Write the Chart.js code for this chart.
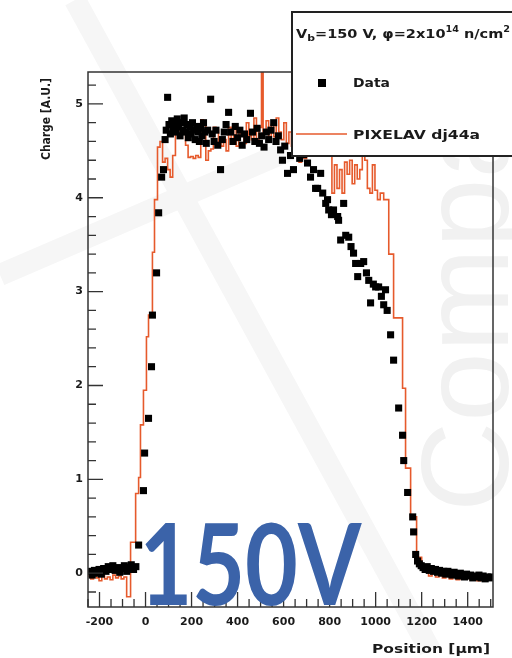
<!DOCTYPE html>
<html>
<head>
<meta charset="utf-8">
<script src="https://cdn.jsdelivr.net/npm/chart.js@4.4.1/dist/chart.umd.min.js"></script>
<style>
  html, body { margin: 0; padding: 0; background: #fff; }
  canvas { display: block; }
</style>
</head>
<body>
<canvas id="grafico" width="512" height="658"></canvas>
<script>
// Measured charge profile (black squares)
const dataX = [
  -242, -232, -222, -212, -202, -192, -182, -172, -162, -152, -142, -132, -122, -112, -102, -92, -82, -72, -62, -52, -42,
  -30, -9, -4, 13, 26, 30, 48, 57, 70, 78,
  85, 90, 96, 102, 108, 114, 120, 126, 132, 138, 144, 150, 156, 162, 168, 174, 180, 186, 192, 198,
  204, 210, 216, 222, 228, 234, 240, 246, 252, 258, 264, 270, 283, 290, 298, 306, 314, 326, 334, 342,
  350, 361, 370, 380, 390, 400, 410, 420, 430, 440, 456, 465, 475, 485, 495, 505, 515, 525, 535, 545,
  557, 567, 577, 587, 595, 605, 617, 630, 643, 655, 670, 687, 704, 717, 730, 739, 748, 761, 770, 783,
  791, 796, 808, 817, 835, 839, 848, 861, 870, 883, 893, 904, 913, 922, 935, 948, 960, 970, 978, 990,
  1000, 1013, 1025, 1035, 1043, 1050, 1065, 1078, 1100, 1117, 1122, 1139, 1161, 1165, 1174, 1182, 1190, 1198,
  1206, 1215, 1224, 1233, 1242, 1251, 1260, 1269, 1278, 1287, 1296, 1305, 1314, 1323, 1332, 1341, 1350,
  1359, 1368, 1377, 1386, 1395, 1404, 1413, 1422, 1431, 1440, 1449, 1458, 1467, 1476, 1485, 1494, 1503
];
const dataY = [
  0.02, -0.02, 0.03, 0.0, 0.04, -0.01, 0.05, 0.02, 0.07, 0.04, 0.08, 0.03, 0.06, 0.01, 0.05, 0.08, 0.02, 0.06, 0.09, 0.04, 0.07,
  0.3, 0.88, 1.28, 1.65, 2.2, 2.75, 3.2, 3.84, 4.22, 4.3,
  4.62, 4.72, 5.07, 4.78, 4.68, 4.82, 4.74, 4.8, 4.7, 4.84, 4.76, 4.66, 4.8, 4.72, 4.85, 4.7, 4.78, 4.64, 4.75, 4.68,
  4.8, 4.72, 4.62, 4.76, 4.7, 4.6, 4.74, 4.66, 4.8, 4.7, 4.58, 4.72, 5.05, 4.68, 4.6, 4.72, 4.56, 4.3, 4.62, 4.7,
  4.78, 4.91, 4.7, 4.6, 4.76, 4.64, 4.72, 4.56, 4.68, 4.62, 4.9, 4.7, 4.6, 4.74, 4.58, 4.66, 4.54, 4.7, 4.62, 4.72,
  4.8, 4.6, 4.66, 4.51, 4.4, 4.55, 4.26, 4.45, 4.3, 4.5, 4.42, 4.46, 4.37, 4.22, 4.3, 4.1, 4.1, 4.26, 4.05, 3.94,
  3.98, 3.87, 3.82, 3.87, 3.8, 3.76, 3.55, 3.94, 3.6, 3.58, 3.48, 3.41, 3.3, 3.16, 3.3, 3.32, 3.2, 3.12, 2.88, 3.08,
  3.05, 3.05, 2.95, 2.86, 3.02, 2.8, 2.54, 2.27, 1.76, 1.47, 1.2, 0.86, 0.6, 0.44, 0.2, 0.13, 0.1, 0.08,
  0.06, 0.04, 0.07, 0.03, 0.05, 0.02, 0.04, 0.01, 0.03, 0.0, 0.02, -0.01, 0.02, 0.0, -0.02, 0.01, -0.01,
  -0.03, 0.0, -0.02, -0.04, -0.01, -0.03, -0.02, -0.05, -0.03, -0.04, -0.02, -0.05, -0.03, -0.06, -0.04, -0.05, -0.04
];

// PIXELAV simulation, histogram bins (left edge -> content)
const simX = [
  -250, -238, -226, -214, -202, -190, -178, -166, -154, -142, -130, -118, -106, -94, -82, -65, -43, -30, -22, -9,
  4, 13, 30, 39, 52, 63, 74, 85, 96, 107, 118, 130, 141, 152, 163, 174, 185, 196, 207, 218,
  229, 240, 251, 262, 273, 284, 295, 306, 317, 328, 339, 350, 361, 372, 383, 394, 405, 416, 427, 438,
  449, 460, 471, 482, 493, 504, 511, 524, 535, 546, 557, 568, 579, 590, 601, 612, 623, 634, 645, 656,
  667, 678, 689, 700, 711, 722, 733, 744, 755, 766, 777, 788, 799, 810, 821, 832, 843, 854, 865, 876,
  887, 898, 909, 920, 931, 942, 953, 964, 975, 986, 997, 1008, 1020, 1035, 1057, 1078, 1117, 1130, 1152, 1178,
  1200, 1215, 1230, 1245, 1260, 1275, 1290, 1305, 1320, 1335, 1350, 1365, 1380, 1395, 1410, 1425, 1440, 1455,
  1470, 1485, 1500, 1510
];
const simY = [
  -0.03, -0.06, -0.02, -0.05, -0.08, -0.03, -0.06, -0.04, -0.07, -0.02, -0.05, -0.03, -0.06, -0.04, -0.25, 0.33, 0.85, 1.02, 1.58, 1.95,
  2.52, 2.75, 3.42, 3.98, 4.54, 4.6, 4.38, 4.42, 4.3, 4.22, 4.45, 4.7, 4.72, 4.68, 4.7, 4.56, 4.43, 4.44, 4.42, 4.45,
  4.43, 4.83, 4.8, 4.4, 4.5, 4.52, 4.75, 4.72, 4.6, 4.55, 4.62, 4.5, 4.75, 4.6, 4.78, 4.55, 4.68, 4.7, 4.58, 4.8,
  4.66, 4.62, 4.85, 4.6, 4.75, 5.6, 4.7, 4.82, 4.6, 4.78, 4.65, 4.85, 4.7, 4.62, 4.8, 4.58, 4.7, 4.55, 4.6, 4.5,
  4.38, 4.55, 4.42, 4.6, 4.5, 4.7, 4.55, 4.65, 4.5, 4.6, 4.52, 4.48, 4.55, 4.05, 4.35, 4.1, 4.3, 4.05, 4.38, 4.25,
  4.4, 4.15, 4.35, 4.2, 4.3, 4.45, 4.4, 4.1, 4.05, 4.35, 4.08, 3.98, 4.05, 3.98, 3.4, 2.72, 1.97, 1.12, 0.6, 0.17,
  0.06, 0.02, -0.03, 0.0, -0.04, -0.02, -0.05, -0.03, -0.06, -0.04, -0.07, -0.04, -0.06, -0.03, -0.07, -0.05, -0.08, -0.05,
  -0.07, -0.04, -0.06, -0.06
];

// Axis ticks
const xTicks = [-200, 0, 200, 400, 600, 800, 1000, 1200, 1400];
const yTicks = [0, 1, 2, 3, 4, 5];

const corSim = '#e65a2c';
const corTexto = '#1a1a1a';
const fonteTicks = 'DejaVu Sans';

// Draws a run of text pieces (sub/superscripts) squeezed to a given width
function desenharTexto(ctx, partes, x, y, largura) {
  let total = 0;
  partes.forEach(p => {
    ctx.font = (p.weight || 'normal') + ' ' + p.size + 'px ' + (p.family || 'DejaVu Sans');
    total += ctx.measureText(p.t).width;
  });
  ctx.save();
  ctx.translate(x, y);
  ctx.scale(largura / total, 1);
  let cx = 0;
  partes.forEach(p => {
    ctx.font = (p.weight || 'normal') + ' ' + p.size + 'px ' + (p.family || 'DejaVu Sans');
    ctx.fillText(p.t, cx, p.dy || 0);
    cx += ctx.measureText(p.t).width;
  });
  ctx.restore();
}

// Background watermark, frame, ticks, titles, label and legend
const decoracao = {
  id: 'decoracao',
  beforeDraw(chart) {
    const ctx = chart.ctx;
    ctx.save();
    ctx.fillStyle = '#fff';
    ctx.fillRect(0, 0, chart.width, chart.height);
    // faint diagonal bands of the watermark logo
    ctx.strokeStyle = '#f6f6f6';
    ctx.lineWidth = 22;
    ctx.beginPath();
    ctx.moveTo(75, 0);
    ctx.lineTo(430, 650);
    ctx.moveTo(0, 275);
    ctx.lineTo(290, 150);
    ctx.stroke();
    ctx.translate(508, 512);
    ctx.rotate(-Math.PI / 2);
    ctx.fillStyle = '#f1f1f1';
    ctx.font = '125px "Liberation Sans"';
    ctx.textBaseline = 'alphabetic';
    ctx.fillText('Compact', 0, 0);
    ctx.restore();
  },
  afterDatasetsDraw(chart) {
    const ctx = chart.ctx;
    const a = chart.chartArea;
    const sx = chart.scales.x, sy = chart.scales.y;
    ctx.save();

    // frame
    ctx.strokeStyle = '#333';
    ctx.lineWidth = 1.5;
    ctx.strokeRect(a.left, a.top, a.right - a.left, a.bottom - a.top);

    // inward ticks
    ctx.lineWidth = 1.3;
    ctx.beginPath();
    for (let v = -200; v <= 5200; v += 200) {
      const val = v / 1000;
      if (val < sy.min || val > sy.max) continue;
      const py = sy.getPixelForValue(val);
      const len = (v % 1000 === 0) ? 15 : 8;
      ctx.moveTo(a.left, py);
      ctx.lineTo(a.left + len, py);
    }
    for (let v = -250; v <= 1500; v += 50) {
      const px = sx.getPixelForValue(v);
      const len = (v % 200 === 0) ? 15 : 8;
      ctx.moveTo(px, a.bottom);
      ctx.lineTo(px, a.bottom - len);
    }
    ctx.stroke();

    // "150V" label
    ctx.fillStyle = '#3b63a9';
    ctx.font = 'bold 100px Lato';
    const m = ctx.measureText('150V');
    const alt = m.actualBoundingBoxAscent;
    const tam = 100 * 83 / alt;
    ctx.font = 'bold ' + tam + 'px Lato';
    const m2 = ctx.measureText('150V');
    const larg = m2.actualBoundingBoxLeft + m2.actualBoundingBoxRight;
    ctx.translate(145, 605);
    ctx.scale(217 / larg, 1);
    ctx.fillText('150V', m2.actualBoundingBoxLeft, 0);
    ctx.restore();
  },
  afterDraw(chart) {
    const ctx = chart.ctx;
    ctx.save();
    ctx.fillStyle = corTexto;
    ctx.textBaseline = 'alphabetic';

    // axis titles
    desenharTexto(ctx, [{ t: 'Position [µm]', size: 12, weight: 'bold' }], 372, 653, 118);
    ctx.save();
    ctx.translate(50, 160);
    ctx.rotate(-Math.PI / 2);
    desenharTexto(ctx, [{ t: 'Charge [A.U.]', size: 12, weight: 'bold' }], 0, 0, 82);
    ctx.restore();

    // legend box
    ctx.fillStyle = '#fff';
    ctx.fillRect(292, 12, 240, 144);
    ctx.strokeStyle = '#222';
    ctx.lineWidth = 2;
    ctx.strokeRect(292, 12, 240, 144);

    ctx.fillStyle = corTexto;
    desenharTexto(ctx, [
      { t: 'V', size: 12, weight: 'bold' },
      { t: 'b', size: 9, dy: 3, weight: 'bold' },
      { t: '=150 V, φ=2x10', size: 12, weight: 'bold' },
      { t: '14', size: 8, dy: -6, weight: 'bold' },
      { t: ' n/cm', size: 12, weight: 'bold' },
      { t: '2', size: 8, dy: -6, weight: 'bold' }
    ], 296, 38, 214);

    ctx.fillStyle = '#000';
    ctx.fillRect(318, 79, 8, 8);
    ctx.fillStyle = corTexto;
    desenharTexto(ctx, [{ t: 'Data', size: 13, weight: 'bold' }], 353, 87, 37);

    ctx.strokeStyle = corSim;
    ctx.lineWidth = 1.6;
    ctx.beginPath();
    ctx.moveTo(296, 134);
    ctx.lineTo(347, 134);
    ctx.stroke();
    desenharTexto(ctx, [{ t: 'PIXELAV dj44a', size: 13, weight: 'bold' }], 353, 139, 127);
    ctx.restore();
  }
};

const ctx = document.getElementById('grafico').getContext('2d');
const grafico = new Chart(ctx, {
  type: 'scatter',
  data: {
    datasets: [
      {
        label: 'Data',
        data: dataX.map((x, i) => ({ x: x, y: dataY[i] })),
        pointStyle: 'rect',
        pointRadius: 5,
        backgroundColor: '#000',
        borderColor: '#000',
        borderWidth: 0,
        showLine: false,
        order: 1
      },
      {
        label: 'PIXELAV dj44a',
        data: simX.map((x, i) => ({ x: x, y: simY[i] })),
        showLine: true,
        stepped: true,
        borderColor: corSim,
        borderWidth: 1.6,
        pointRadius: 0,
        fill: false,
        order: 2
      }
    ]
  },
  options: {
    responsive: false,
    animation: false,
    devicePixelRatio: 1,
    layout: { padding: { left: 0, top: 72, right: 19, bottom: 0 } },
    plugins: { legend: { display: false }, tooltip: { enabled: false } },
    scales: {
      x: {
        type: 'linear',
        min: -250,
        max: 1510,
        afterBuildTicks: s => { s.ticks = xTicks.map(v => ({ value: v })); },
        afterFit: s => { s.height = 51; },
        grid: { display: false, drawTicks: false },
        border: { display: false },
        ticks: {
          padding: 9,
          autoSkip: false,
          maxRotation: 0,
          color: corTexto,
          font: { family: fonteTicks, size: 11, weight: 'bold' },
          callback: v => String(v)
        }
      },
      y: {
        type: 'linear',
        min: -0.36,
        max: 5.34,
        afterBuildTicks: s => { s.ticks = yTicks.map(v => ({ value: v })); },
        afterFit: s => { s.width = 88; },
        grid: { display: false, drawTicks: false },
        border: { display: false },
        ticks: {
          padding: 5,
          color: corTexto,
          font: { family: fonteTicks, size: 11, weight: 'bold' },
          callback: v => String(v)
        }
      }
    }
  },
  plugins: [decoracao]
});
</script>
</body>
</html>
